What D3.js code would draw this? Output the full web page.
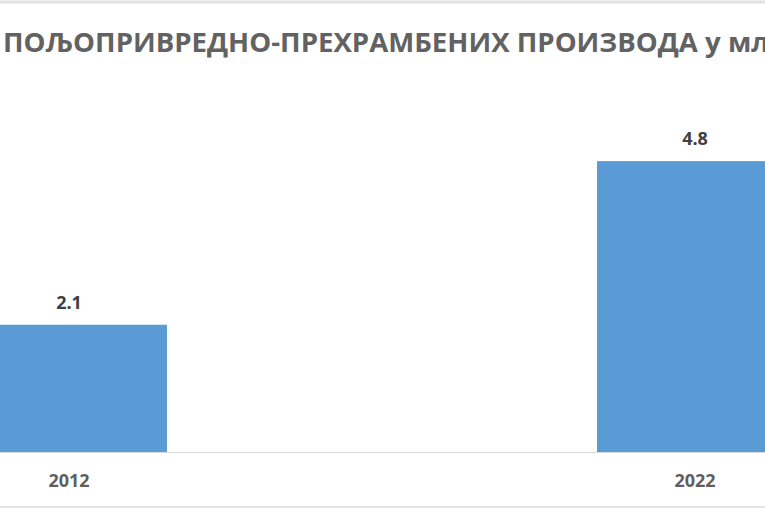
<!DOCTYPE html>
<html><head><meta charset="utf-8">
<script src="https://cdn.jsdelivr.net/npm/d3@7"></script>
<style>html,body{margin:0;padding:0;background:#fff;overflow:hidden}</style>
</head><body>
<script>
const years = ["2012", "2022"];
const values = [2.1, 4.8];
const valueLabels = ["2.1", "4.8"];
const titleText = "ПОЉОПРИВРЕДНО-ПРЕХРАМБЕНИХ ПРОИЗВОДА у мл";

const W = 765, H = 510;
const svg = d3.select("body").append("svg").attr("width", W).attr("height", H);
svg.append("rect").attr("width", W).attr("height", H).attr("fill", "#fff");

// frame lines
svg.append("line").attr("x1",0).attr("x2",W).attr("y1",2).attr("y2",2).attr("stroke","#e3e3e3").attr("stroke-width",3);
svg.append("line").attr("x1",0).attr("x2",W).attr("y1",507).attr("y2",507).attr("stroke","#e3e3e3").attr("stroke-width",2);

const x = d3.scaleBand().domain(years).range([-342, 1106]).paddingInner(0.687).paddingOuter(0.5);
const y = d3.scaleLinear().domain([0, 5]).range([452, 452 - 5 * 60.6]);

// baseline axis
const xAxis = d3.axisBottom(x).tickSize(0).tickPadding(0);
const gx = svg.append("g").attr("transform", "translate(0,452)").call(xAxis);
gx.select(".domain").attr("stroke", "#d9d9d9").attr("stroke-width", 1.2);
gx.selectAll("text")
  .attr("dy", null).attr("y", 35)
  .attr("fill", "#5f5f5f")
  .attr("font-family", "'Open Sans', sans-serif")
  .attr("font-weight", 700)
  .attr("font-size", 18);

svg.selectAll("rect.bar").data(values).join("rect")
  .attr("class", "bar")
  .attr("x", (d, i) => x(years[i]))
  .attr("width", x.bandwidth())
  .attr("y", d => y(d))
  .attr("height", d => y(0) - y(d))
  .attr("fill", "#5b9bd5");

svg.selectAll("text.val").data(values).join("text")
  .attr("class", "val")
  .attr("x", (d, i) => x(years[i]) + x.bandwidth() / 2)
  .attr("y", d => y(d) - 16)
  .attr("text-anchor", "middle")
  .attr("fill", "#404040")
  .attr("font-family", "'Open Sans', sans-serif")
  .attr("font-weight", 700)
  .attr("font-size", 18)
  .text((d, i) => valueLabels[i]);

svg.append("text")
  .attr("x", 3).attr("y", 52)
  .attr("fill", "#626262")
  .attr("font-family", "'Open Sans', sans-serif")
  .attr("font-weight", 700)
  .attr("font-size", 27)
  .attr("textLength", 766)
  .attr("lengthAdjust", "spacingAndGlyphs")
  .text(titleText);
</script>
</body></html>
